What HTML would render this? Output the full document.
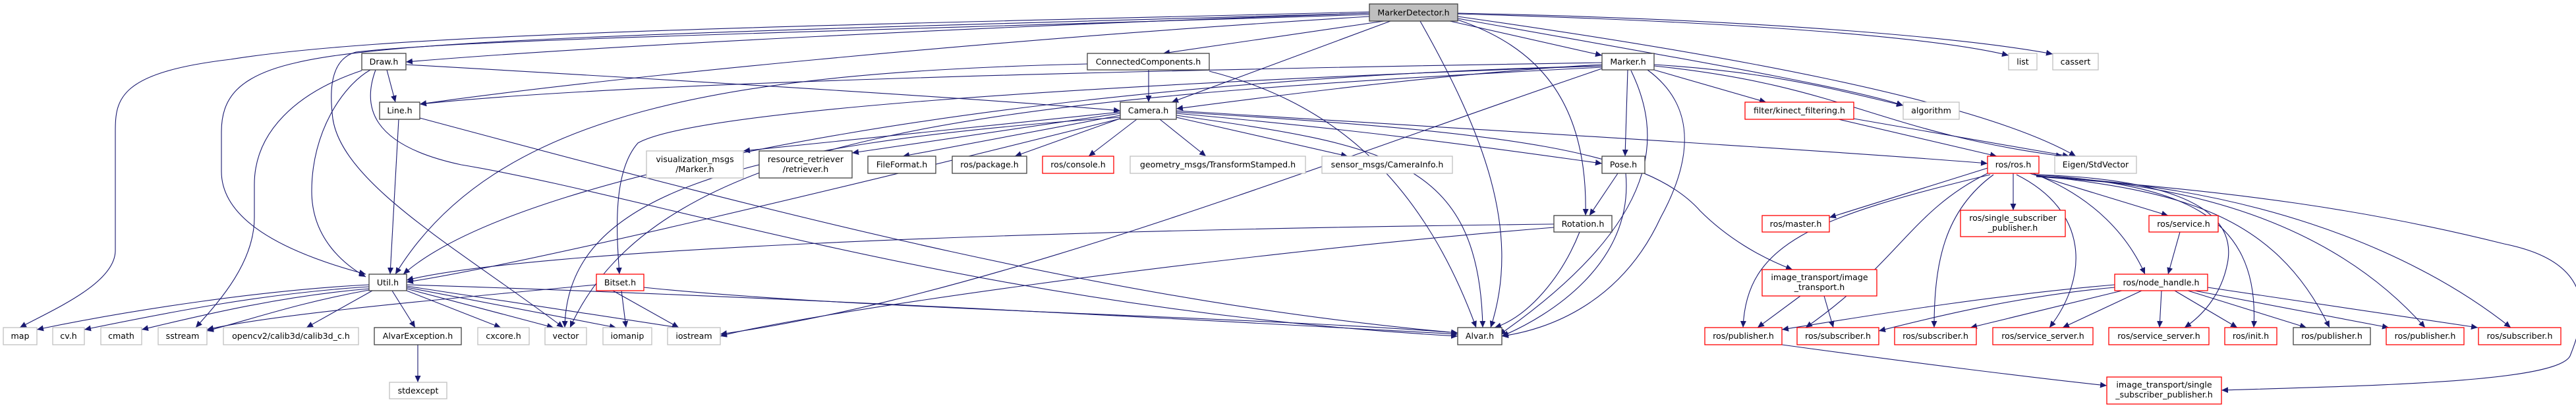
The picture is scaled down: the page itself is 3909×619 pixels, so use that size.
<!DOCTYPE html>
<html><head><meta charset="utf-8"><style>
html,body{margin:0;padding:0;background:#fff;}
svg{display:block;}
text{font-family:"DejaVu Sans","Liberation Sans",sans-serif;font-size:12.6px;fill:#000;text-anchor:middle;}
.e{fill:none;stroke:#191970;stroke-width:1.1;marker-end:url(#a);}
.nb{fill:#fff;stroke:#404040;stroke-width:1.3;}
.ng{fill:#fff;stroke:#bfbfbf;stroke-width:1.3;}
.nr{fill:#fff;stroke:#ff0000;stroke-width:1.3;}
</style></head><body>
<svg width="3909" height="619" viewBox="0 0 3909 619" xmlns="http://www.w3.org/2000/svg">
<defs><marker id="a" markerUnits="userSpaceOnUse" markerWidth="11" markerHeight="9" refX="10" refY="4.5" orient="auto"><path d="M0,0 L10,4.5 L0,9 Z" fill="#191970"/></marker></defs>
<rect width="3909" height="619" fill="#fff"/>
<!-- edges -->
<g>
<path class="e" d="M2078,20 C1500,40 900,70 616,94"/>
<path class="e" d="M2078,18 C1200,40 600,50 350,90 C180,110 175,150 175,200 L175,380 C175,430 80,470 30,497"/>
<path class="e" d="M2078,20 C1000,50 600,60 450,95 C360,115 336,150 336,200 L336,260 C336,330 420,380 555,416"/>
<path class="e" d="M2078,25 C1500,60 900,120 637,158"/>
<path class="e" d="M2100,32 L1765,81"/>
<path class="e" d="M2110,32 L1778,155"/>
<path class="e" d="M2200,32 L2431,84"/>
<path class="e" d="M2155,32 C2250,200 2310,350 2262,497"/>
<path class="e" d="M2212,30 C2330,70 2410,150 2406,327"/>
<path class="e" d="M2078,22 C1200,50 700,60 540,79 C500,90 500,140 505,180 C520,280 700,380 855,497"/>
<path class="e" d="M2212,28 C2500,80 2800,130 2888,160"/>
<path class="e" d="M2212,25 C2600,80 3000,150 3150,237"/>
<path class="e" d="M2212,21 C2700,35 2950,60 3048,84"/>
<path class="e" d="M2212,20 C2700,30 3000,60 3115,82"/>
<path class="e" d="M587,106 L600,155"/>
<path class="e" d="M562,106 C520,130 473,200 473,290 C473,360 520,400 555,420"/>
<path class="e" d="M549,107 C450,140 386,200 386,280 L386,330 C386,400 330,460 297,497"/>
<path class="e" d="M570,106 C550,160 560,220 700,250 C1000,300 1500,470 2212,510"/>
<path class="e" d="M616,98 C1000,120 1500,150 1700,168"/>
<path class="e" d="M605,181 L592,416"/>
<path class="e" d="M637,179 C1200,330 1700,460 2212,505"/>
<path class="e" d="M1743,106 L1743,155"/>
<path class="e" d="M1650,97 C1100,110 750,170 600,416"/>
<path class="e" d="M1835,108 C2000,150 2150,250 2240,497"/>
<path class="e" d="M2470,106 L2466,237"/>
<path class="e" d="M2475,107 C2520,200 2530,330 2275,508"/>
<path class="e" d="M2500,106 C2560,150 2580,220 2520,330 C2460,460 2350,500 2279,510"/>
<path class="e" d="M2510,106 L2680,155"/>
<path class="e" d="M2510,98 C2700,110 2800,140 2888,160"/>
<path class="e" d="M2510,100 C2800,130 2850,200 3130,237"/>
<path class="e" d="M2431,98 C2200,110 1900,150 1785,165"/>
<path class="e" d="M2431,95 C1500,110 900,130 637,158"/>
<path class="e" d="M2431,100 C1600,120 800,250 612,416"/>
<path class="e" d="M2431,100 C1600,130 1050,170 968,217 C930,260 935,350 940,416"/>
<path class="e" d="M2431,104 C2000,250 1500,450 1093,507"/>
<path class="e" d="M2431,102 C1500,150 1000,200 865,497"/>
<path class="e" d="M1700,170 L1128,229"/>
<path class="e" d="M1700,172 L1293,232"/>
<path class="e" d="M1700,175 L1370,237"/>
<path class="e" d="M1705,178 L1540,237"/>
<path class="e" d="M1725,181 L1652,237"/>
<path class="e" d="M1760,181 L1830,237"/>
<path class="e" d="M1785,178 L2045,237"/>
<path class="e" d="M1785,172 C2100,200 2300,230 2431,248"/>
<path class="e" d="M1785,168 C2300,200 2800,230 3016,248"/>
<path class="e" d="M1785,175 C2100,220 2245,240 2250,497"/>
<path class="e" d="M1700,178 C1100,220 860,300 857,497"/>
<path class="e" d="M1785,170 C2300,200 2500,230 2580,320 C2620,360 2670,390 2720,409"/>
<path class="e" d="M1700,180 C1300,280 800,400 617,428"/>
<path class="e" d="M2455,263 L2412,327"/>
<path class="e" d="M2467,263 C2480,400 2350,480 2279,510"/>
<path class="e" d="M2358,340 C1500,350 800,380 617,425"/>
<path class="e" d="M2358,345 C1800,390 1200,480 1093,510"/>
<path class="e" d="M2397,352 C2370,420 2320,480 2268,497"/>
<path class="e" d="M930,441 L1030,497"/>
<path class="e" d="M943,441 L950,497"/>
<path class="e" d="M905,432 C600,460 400,480 314,500"/>
<path class="e" d="M977,436 C1300,470 1900,480 2212,505"/>
<path class="e" d="M560,432 C400,440 200,470 56,500"/>
<path class="e" d="M560,435 C400,445 250,475 128,500"/>
<path class="e" d="M560,438 C420,450 300,480 215,500"/>
<path class="e" d="M560,440 C450,460 380,485 314,502"/>
<path class="e" d="M565,441 L465,497"/>
<path class="e" d="M595,441 L630,497"/>
<path class="e" d="M617,441 L760,497"/>
<path class="e" d="M617,438 L840,497"/>
<path class="e" d="M617,436 L935,497"/>
<path class="e" d="M617,434 L1030,497"/>
<path class="e" d="M617,432 C1200,450 1900,490 2212,507"/>
<path class="e" d="M634,523 L634,580"/>
<path class="e" d="M2790,181 L3030,237"/>
<path class="e" d="M2813,180 L3140,237"/>
<path class="e" d="M3016,255 L2776,330"/>
<path class="e" d="M3055,263 L3055,319"/>
<path class="e" d="M3080,263 L3290,327"/>
<path class="e" d="M3085,263 C3180,300 3230,360 3255,416"/>
<path class="e" d="M3020,265 C2750,330 2650,370 2645,497"/>
<path class="e" d="M3016,263 C2900,320 2880,400 2740,497"/>
<path class="e" d="M3025,265 C2950,320 2935,400 2935,497"/>
<path class="e" d="M3060,265 C3170,320 3170,420 3110,497"/>
<path class="e" d="M3090,265 C3250,270 3400,300 3380,400 C3370,450 3340,480 3315,497"/>
<path class="e" d="M3090,265 C3300,280 3430,320 3420,497"/>
<path class="e" d="M3090,266 C3300,290 3450,320 3535,497"/>
<path class="e" d="M3090,267 C3350,280 3550,350 3680,497"/>
<path class="e" d="M3090,268 C3400,280 3650,370 3810,497"/>
<path class="e" d="M3090,268 C3400,290 3600,320 3800,370 C3950,400 3920,490 3900,540 C3880,580 3600,585 3371,592"/>
<path class="e" d="M2732,449 L2667,497"/>
<path class="e" d="M2768,449 L2782,497"/>
<path class="e" d="M3308,352 L3290,416"/>
<path class="e" d="M3209,436 C3050,450 2900,490 2851,502"/>
<path class="e" d="M3220,441 L2990,497"/>
<path class="e" d="M3250,441 L3130,497"/>
<path class="e" d="M3280,441 L3277,497"/>
<path class="e" d="M3300,441 L3395,497"/>
<path class="e" d="M3320,441 L3500,497"/>
<path class="e" d="M3330,441 L3625,497"/>
<path class="e" d="M3350,436 L3760,497"/>
<path class="e" d="M3209,432 C3000,450 2800,485 2704,500"/>
<path class="e" d="M2704,523 C2900,550 3100,575 3197,585"/>
</g>
<!-- nodes -->
<g>
<rect x="2078" y="6" width="134" height="26" fill="#bfbfbf" stroke="#404040" stroke-width="1.3"/><text x="2145" y="23.5">MarkerDetector.h</text>
<rect class="nb" x="549" y="81" width="67" height="25"/><text x="582.5" y="98">Draw.h</text>
<rect class="nb" x="1650" y="81" width="185" height="25"/><text x="1742.5" y="98">ConnectedComponents.h</text>
<rect class="nb" x="2431" y="81" width="79" height="25"/><text x="2470.5" y="98">Marker.h</text>
<rect class="ng" x="3048" y="81" width="43" height="25"/><text x="3069.5" y="98">list</text>
<rect class="ng" x="3115" y="81" width="69" height="25"/><text x="3149.5" y="98">cassert</text>
<rect class="nb" x="576" y="155" width="61" height="26"/><text x="606.5" y="172">Line.h</text>
<rect class="nb" x="1700" y="155" width="85" height="26"/><text x="1742.5" y="172">Camera.h</text>
<rect class="nr" x="2648" y="155" width="165" height="26"/><text x="2730.5" y="172">filter/kinect_filtering.h</text>
<rect class="ng" x="2888" y="155" width="85" height="26"/><text x="2930.5" y="172">algorithm</text>
<rect class="ng" x="981" y="229" width="147" height="41"/><text x="1054.5" y="246">visualization_msgs</text><text x="1054.5" y="261">/Marker.h</text>
<rect class="nb" x="1152" y="229" width="141" height="41"/><text x="1222.5" y="246">resource_retriever</text><text x="1222.5" y="261">/retriever.h</text>
<rect class="nb" x="1317" y="237" width="103" height="26"/><text x="1368.5" y="254">FileFormat.h</text>
<rect class="nb" x="1445" y="237" width="113" height="26"/><text x="1501.5" y="254">ros/package.h</text>
<rect class="nr" x="1582" y="237" width="108" height="26"/><text x="1636" y="254">ros/console.h</text>
<rect class="ng" x="1715" y="237" width="266" height="26"/><text x="1848" y="254">geometry_msgs/TransformStamped.h</text>
<rect class="ng" x="2006" y="237" width="198" height="26"/><text x="2105" y="254">sensor_msgs/CameraInfo.h</text>
<rect class="nb" x="2431" y="237" width="65" height="26"/><text x="2463.5" y="254">Pose.h</text>
<rect class="nr" x="3016" y="237" width="78" height="26"/><text x="3055" y="254">ros/ros.h</text>
<rect class="ng" x="3118" y="237" width="124" height="26"/><text x="3180" y="254">Eigen/StdVector</text>
<rect class="nr" x="2975" y="319" width="159" height="40"/><text x="3054.5" y="335">ros/single_subscriber</text><text x="3054.5" y="350">_publisher.h</text>
<rect class="nb" x="2358" y="327" width="88" height="25"/><text x="2402" y="344">Rotation.h</text>
<rect class="nr" x="2674" y="327" width="102" height="25"/><text x="2725" y="344">ros/master.h</text>
<rect class="nr" x="3261" y="327" width="105" height="25"/><text x="3313.5" y="344">ros/service.h</text>
<rect class="nr" x="2674" y="409" width="174" height="40"/><text x="2761" y="425">image_transport/image</text><text x="2761" y="440">_transport.h</text>
<rect class="nb" x="560" y="416" width="57" height="25"/><text x="588.5" y="433">Util.h</text>
<rect class="nr" x="905" y="416" width="72" height="25"/><text x="941" y="433">Bitset.h</text>
<rect class="nr" x="3209" y="416" width="141" height="25"/><text x="3279.5" y="433">ros/node_handle.h</text>
<rect class="ng" x="5" y="497" width="51" height="26"/><text x="30.5" y="514">map</text>
<rect class="ng" x="80" y="497" width="48" height="26"/><text x="104" y="514">cv.h</text>
<rect class="ng" x="153" y="497" width="62" height="26"/><text x="184" y="514">cmath</text>
<rect class="ng" x="240" y="497" width="74" height="26"/><text x="277" y="514">sstream</text>
<rect class="ng" x="339" y="497" width="205" height="26"/><text x="441.5" y="514">opencv2/calib3d/calib3d_c.h</text>
<rect class="nb" x="568" y="497" width="132" height="26"/><text x="634" y="514">AlvarException.h</text>
<rect class="ng" x="725" y="497" width="78" height="26"/><text x="764" y="514">cxcore.h</text>
<rect class="ng" x="827" y="497" width="63" height="26"/><text x="858.5" y="514">vector</text>
<rect class="ng" x="915" y="497" width="74" height="26"/><text x="952" y="514">iomanip</text>
<rect class="ng" x="1013" y="497" width="80" height="26"/><text x="1053" y="514">iostream</text>
<rect class="nb" x="2212" y="497" width="67" height="26"/><text x="2245.5" y="514">Alvar.h</text>
<rect class="nr" x="2587" y="497" width="117" height="26"/><text x="2645.5" y="514">ros/publisher.h</text>
<rect class="nr" x="2727" y="497" width="124" height="26"/><text x="2789" y="514">ros/subscriber.h</text>
<rect class="nr" x="2875" y="497" width="124" height="26"/><text x="2937" y="514">ros/subscriber.h</text>
<rect class="nr" x="3024" y="497" width="152" height="26"/><text x="3100" y="514">ros/service_server.h</text>
<rect class="nr" x="3200" y="497" width="152" height="26"/><text x="3276" y="514">ros/service_server.h</text>
<rect class="nr" x="3376" y="497" width="79" height="26"/><text x="3415.5" y="514">ros/init.h</text>
<rect class="nb" x="3480" y="497" width="117" height="26"/><text x="3538.5" y="514">ros/publisher.h</text>
<rect class="nr" x="3621" y="497" width="118" height="26"/><text x="3680" y="514">ros/publisher.h</text>
<rect class="nr" x="3761" y="497" width="125" height="26"/><text x="3823.5" y="514">ros/subscriber.h</text>
<rect class="ng" x="591" y="580" width="87" height="25"/><text x="634.5" y="597">stdexcept</text>
<rect class="nr" x="3197" y="572" width="174" height="41"/><text x="3284" y="588">image_transport/single</text><text x="3284" y="603">_subscriber_publisher.h</text>
</g>
</svg>
</body></html>
